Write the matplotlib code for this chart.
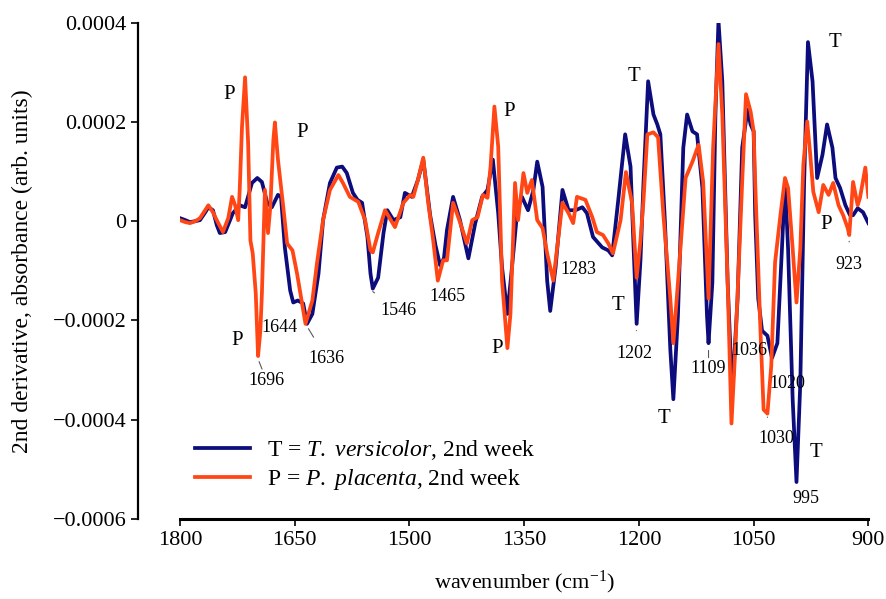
import matplotlib
matplotlib.use('Agg')
import matplotlib.pyplot as plt
import numpy as np
from matplotlib.ticker import FuncFormatter

plt.rcParams['font.family'] = 'Liberation Serif'
plt.rcParams['mathtext.fontset'] = 'custom'
plt.rcParams['mathtext.rm'] = 'Liberation Serif'
plt.rcParams['mathtext.it'] = 'Liberation Serif:italic'

# wavenumber (cm-1) and 2nd derivative values (x 1e-4)
t_wn = [1800, 1793, 1787, 1780, 1774, 1767, 1763, 1757, 1752, 1748, 1741, 1731,
        1722, 1715, 1706, 1699, 1693, 1686, 1680, 1672, 1668, 1663, 1656, 1652,
        1646, 1639, 1634, 1627, 1619, 1613, 1604, 1595, 1588, 1582, 1574, 1568,
        1562, 1555, 1551, 1548, 1541, 1534, 1529, 1521, 1512, 1506, 1497, 1489,
        1482, 1473, 1466, 1460, 1455, 1451, 1443, 1434, 1423, 1414, 1405, 1398,
        1391, 1384, 1379, 1372, 1366, 1359, 1353, 1345, 1338, 1333, 1326, 1320,
        1316, 1309, 1300, 1292, 1283, 1274, 1268, 1260, 1248, 1240, 1235, 1227,
        1218, 1211, 1207, 1203, 1198, 1194, 1188, 1181, 1176, 1172, 1166, 1159,
        1155, 1149, 1142, 1137, 1130, 1124, 1117, 1111, 1109, 1104, 1100, 1096,
        1091, 1084, 1078, 1071, 1065, 1058, 1054, 1050, 1048, 1044, 1039, 1032,
        1026, 1019, 1013, 1009, 1005, 999, 994, 989, 984, 979, 973, 967,
        960, 954, 947, 943, 937, 930, 924, 920, 914, 907, 900]
t_val = [0.06, 0.02, -0.02, 0.0, 0.02, 0.18, 0.28, 0.22, -0.08, -0.24, -0.22, 0.16,
         0.32, 0.28, 0.77, 0.87, 0.79, 0.37, 0.28, 0.53, 0.49, -0.53, -1.40, -1.64,
         -1.60, -1.66, -2.07, -1.87, -1.06, 0.02, 0.77, 1.08, 1.10, 0.97, 0.57, 0.43,
         0.37, -0.32, -1.06, -1.36, -1.14, -0.24, 0.22, 0.02, 0.08, 0.57, 0.49, 0.83,
         1.24, 0.12, -0.49, -0.89, -0.75, -0.18, 0.49, 0.02, -0.75, -0.04, 0.49, 0.63,
         1.24, 0.16, -0.93, -1.87, -0.93, 0.22, 0.49, 0.22, 0.63, 1.20, 0.69, -1.20,
         -1.81, -0.93, 0.63, 0.22, 0.22, 0.28, 0.16, -0.32, -0.53, -0.59, -0.69, 0.43,
         1.75, 1.10, -0.53, -2.07, -0.79, 0.79, 2.82, 2.15, 1.95, 1.75, -0.02, -2.58,
         -3.59, -1.91, 1.48, 2.15, 1.81, 1.75, 0.67, -1.91, -2.46, -1.24, 2.15, 4.04,
         2.82, -1.24, -3.47, -1.56, 1.48, 2.25, 1.95, 1.81, 0.12, -1.56, -2.21, -2.31,
         -2.76, -2.46, -0.55, 0.79, -0.55, -3.59, -5.26, -3.27, 0.79, 3.61, 2.82, 0.87,
         1.34, 1.95, 1.48, 0.87, 0.67, 0.32, 0.12, 0.12, 0.26, 0.18, -0.04]

p_wn = [1800, 1793, 1787, 1780, 1774, 1769, 1763, 1757, 1752, 1744, 1737, 1732,
        1728, 1724, 1722, 1719, 1715, 1711, 1708, 1705, 1701, 1698, 1695, 1693,
        1689, 1685, 1682, 1678, 1676, 1672, 1665, 1660, 1653, 1647, 1636, 1627,
        1621, 1613, 1604, 1593, 1587, 1578, 1567, 1558, 1551, 1548, 1541, 1532,
        1519, 1508, 1499, 1495, 1489, 1482, 1476, 1469, 1463, 1456, 1451, 1443,
        1434, 1425, 1418, 1411, 1404, 1398, 1394, 1389, 1384, 1379, 1372, 1368,
        1362, 1358, 1351, 1346, 1340, 1333, 1326, 1320, 1312, 1300, 1292, 1286,
        1281, 1270, 1261, 1255, 1247, 1240, 1234, 1224, 1217, 1209, 1203, 1198,
        1194, 1189, 1181, 1175, 1168, 1159, 1155, 1149, 1139, 1130, 1122, 1116,
        1109, 1103, 1096, 1091, 1084, 1079, 1074, 1065, 1060, 1054, 1050, 1048,
        1041, 1037, 1032, 1027, 1022, 1015, 1009, 1005, 999, 994, 989, 985,
        980, 976, 972, 965, 959, 952, 946, 939, 933, 927, 925, 920,
        914, 911, 904, 900]
p_val = [0.02, -0.02, -0.04, 0.0, 0.06, 0.18, 0.32, 0.18, 0.02, -0.22, 0.06, 0.49,
         0.32, 0.02, 0.63, 1.91, 2.90, 1.58, -0.39, -0.65, -1.46, -2.72, -2.21, -1.46,
         0.63, -0.24, 0.28, 1.64, 1.99, 1.24, 0.28, -0.45, -0.59, -1.06, -2.07, -1.60,
         -0.85, 0.02, 0.63, 0.93, 0.77, 0.49, 0.39, 0.02, -0.59, -0.63, -0.24, 0.22,
         -0.12, 0.37, 0.53, 0.49, 0.83, 1.28, 0.43, -0.39, -1.20, -0.79, -0.79, 0.37,
         -0.02, -0.45, 0.02, 0.08, 0.53, 0.47, 1.10, 2.31, 1.50, -1.20, -2.56, -1.87,
         0.77, 0.02, 0.97, 0.57, 0.83, 0.02, -0.14, -0.65, -1.20, 0.37, 0.16, -0.04,
         0.49, 0.43, 0.08, -0.22, -0.28, -0.45, -0.65, 0.02, 0.99, 0.37, -1.14, -0.39,
         0.43, 1.75, 1.79, 1.69, 0.12, -1.56, -2.46, -1.24, 0.87, 1.20, 1.54, 0.79,
         -1.56, 1.48, 3.57, 2.15, -1.24, -4.08, -2.58, 0.79, 2.56, 2.21, 1.81, 0.79,
         -2.25, -3.80, -3.88, -2.92, -0.83, 0.12, 0.87, 0.67, -0.55, -1.64, -0.55, 1.14,
         2.01, 1.34, 0.59, 0.18, 0.73, 0.53, 0.77, 0.32, 0.12, -0.14, -0.28, 0.79,
         0.32, 0.47, 1.08, 0.49]

# (text, wavenumber, value x 1e-4, leader end or None)
labels = [
    ('P', 1736, 2.56, None), ('P', 1640, 1.79, None), ('P', 1725, -2.40, None),
    ('1696', 1687, -3.21, (1698, -2.78)), ('1644', 1670, -2.15, None),
    ('1636', 1609, -2.76, (1634, -2.12)), ('1546', 1515, -1.81, (1548, -1.42)),
    ('1465', 1451, -1.52, None), ('P', 1370, 2.21, None), ('P', 1385, -2.56, None),
    ('1283', 1279, -0.97, None), ('T', 1206, 2.92, None), ('T', 1227, -1.71, None),
    ('1202', 1206, -2.66, (1203, -2.15)), ('T', 1167, -3.98, None),
    ('1109', 1109, -2.98, (1109, -2.55)), ('1036', 1056, -2.60, None),
    ('1020', 1006, -3.27, None), ('1030', 1020, -4.39, (1032, -3.95)),
    ('995', 982, -5.60, None), ('T', 968, -4.67, None), ('T', 943, 3.61, None),
    ('P', 955, -0.06, None), ('923', 926, -0.87, (925, -0.35)),
]

navy = '#0c0c7c'
orange = '#ff4614'

fig = plt.figure(figsize=(8.87, 5.99), dpi=100)
ax = fig.add_axes([0.203, 0.134, 0.776, 0.828])

ax.plot(t_wn, np.array(t_val) * 1e-4, color=navy, lw=2.7,
        solid_joinstyle='round', label=r'T = $\mathit{T.\ versicolor}$, 2nd week')
ax.plot(p_wn, np.array(p_val) * 1e-4, color=orange, lw=2.7,
        solid_joinstyle='round', label=r'P = $\mathit{P.\ placenta}$, 2nd week')

for txt, x, y, lead in labels:
    fs = 15 if txt in ('P', 'T') else 13
    if lead is None:
        ax.text(x, y * 1e-4, txt, fontsize=fs, ha='center', va='center')
    else:
        ax.annotate(txt, xy=(lead[0], lead[1] * 1e-4), xytext=(x, y * 1e-4),
                    fontsize=fs, ha='center', va='center',
                    arrowprops=dict(arrowstyle='-', color='0.35', lw=0.8,
                                    shrinkA=8, shrinkB=2))

ax.set_xlim(1800, 900)
ax.set_ylim(-0.0006, 0.0004)
ax.set_xticks([1800, 1650, 1500, 1350, 1200, 1050, 900])
ax.set_yticks([-0.0006, -0.0004, -0.0002, 0, 0.0002, 0.0004])


def fmt(v, pos):
    if abs(v) < 1e-12:
        return '0'
    s = '%.4f' % abs(v)
    return ('\u2212' + s) if v < 0 else s


ax.yaxis.set_major_formatter(FuncFormatter(fmt))
ax.tick_params(labelsize=16, direction='out', length=5, width=1.2)

ax.spines['top'].set_visible(False)
ax.spines['right'].set_visible(False)
ax.spines['left'].set_position(('outward', 30))
ax.spines['left'].set_linewidth(1.6)
ax.spines['bottom'].set_linewidth(2.2)

ax.set_xlabel(r'wavenumber (cm$^{\mathregular{-1}}$)', fontsize=16, labelpad=14)
ax.set_ylabel('2nd derivative, absorbance (arb. units)', fontsize=17, labelpad=14)

ax.legend(loc='lower left', bbox_to_anchor=(0.022, 0.054), frameon=False,
          fontsize=17, handlelength=2.3, handletextpad=0.75, labelspacing=0.2,
          borderpad=0, borderaxespad=0)

fig.savefig('out.png', dpi=100)
